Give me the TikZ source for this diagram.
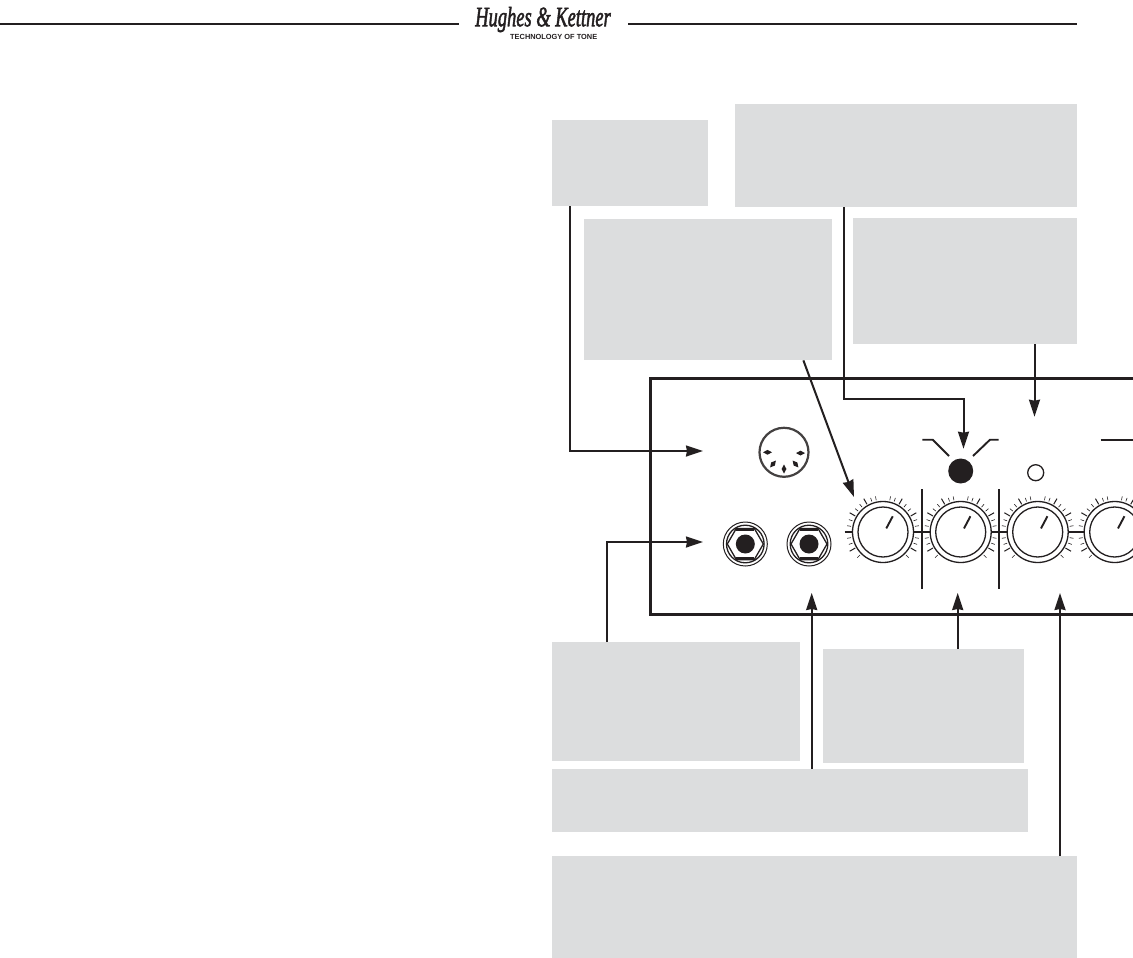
\documentclass[tikz,border=0pt]{standalone}
\usepackage{fontspec}
\setmainfont{Liberation Serif}
\newfontfamily\logosans{Liberation Sans}
\newfontfamily\logoscript[FakeBold=2.2]{Liberation Serif Italic}
\usepackage{xcolor}
\usetikzlibrary{arrows.meta,positioning}
\definecolor{hkgrey}{HTML}{DCDDDE}
\definecolor{hkink}{HTML}{231F20}
\tikzset{
  greybox/.style={fill=hkgrey,draw=none,anchor=north west,inner sep=0pt},
  feed/.style={line width=2pt,draw=hkink,-{Stealth[length=17pt,width=11pt,inset=1pt]}},
  panel/.style={line width=3pt,draw=hkink},
  thinline/.style={line width=1.3pt,draw=hkink},
  markline/.style={line width=1.9pt,draw=hkink}
}
\begin{document}
\begin{tikzpicture}[x=1pt,y=-1pt]
  \useasboundingbox (0,0) rectangle (1133,958);
  \clip (0,0) rectangle (1133,958);
  \fill[white] (0,0) rectangle (1133,958);
  % header
  \coordinate (ruleleft) at (0,23.7);
  \coordinate (ruleleftend) at (459,23.7);
  \coordinate (ruleright) at (628,23.7);
  \coordinate (rulerightend) at (1077,23.7);
  \draw[line width=2pt,draw=hkink] (ruleleft) -- (ruleleftend);
  \draw[line width=2pt,draw=hkink] (ruleright) -- (rulerightend);
  \node[anchor=center,text=hkink,inner sep=0pt] (logoname) at (543,19.5)
    {\scalebox{0.66}[1]{\fontsize{28}{28}\selectfont\logoscript Hughes \& Kettner}};
  \node[anchor=west,text=hkink,inner sep=0pt] (logotag) at (510,36.5)
    {\logosans\bfseries\fontsize{7.4}{8}\selectfont TECHNOLOGY OF TONE};
  % panel
  \draw[panel] (1135,378.5) -- (650.5,378.5) -- (650.5,614) -- (1135,614);
  % grey text fields
  \node[greybox,minimum width=156pt,minimum height=86pt] (boxmidi) at (552,120) {};
  \node[greybox,minimum width=342pt,minimum height=103pt] (boxlamp) at (735,104) {};
  \node[greybox,minimum width=248pt,minimum height=141pt] (boxgain) at (584,219) {};
  \node[greybox,minimum width=224pt,minimum height=126pt] (boxled) at (853,218) {};
  \node[greybox,minimum width=248pt,minimum height=119pt] (boxjack) at (552,642) {};
  \node[greybox,minimum width=201pt,minimum height=114pt] (boxvol) at (823,649) {};
  \node[greybox,minimum width=476pt,minimum height=63pt] (boxsend) at (552,769) {};
  \node[greybox,minimum width=525pt,minimum height=102pt] (boxeq) at (552,856) {};
  % midi socket
  \node[circle,draw=hkink!85!white,line width=2.2pt,minimum size=49pt,inner sep=0pt] (midi) at (784,452.3) {};
  \foreach \px/\py/\pa in {-16.5/0/0,16.5/0.8/0,-11/11.7/50,11.5/11.7/-50,0/16.7/90}
    \fill[hkink,shift={(784+\px,452.3+\py)},rotate=\pa] (-4.5,0) -- (0,-2.4) -- (4.5,0) -- (0,2.4) -- cycle;
  % jacks
  \foreach \jx/\jname in {745.3/jackone,809/jacktwo} {
    \node[circle,draw=hkink,line width=1pt,minimum size=44pt,inner sep=0pt] (\jname) at (\jx,544) {};
    \draw[thinline] (\jx,544) circle (18.8);
    \draw[thinline,fill=white] (\jx-18,544) -- (\jx-9,528.4) -- (\jx+9,528.4) -- (\jx+18,544) -- (\jx+9,559.6) -- (\jx-9,559.6) -- cycle;
    \draw[line width=2.6pt,draw=hkink] (\jx-9,529.4) -- (\jx+9,529.4);
    \draw[line width=2.6pt,draw=hkink] (\jx-9,558.6) -- (\jx+9,558.6);
    \fill[hkink] (\jx,544) circle (9.5);
  }
  % knobs
  \foreach \kx/\kname in {883/knobgain,960.7/knobvol,1037.7/knobbass,1114.7/knobmid} {
    \foreach \a in {210,150,120,60,30,-30}
      \draw[line width=1pt,draw=hkink] (\kx,532)++(-\a:32) -- ++(-\a:6.5);
    \foreach \a in {225,200,190,170,160,140,130,110,102,78,70,50,40,20,10,-10,-20,-45}
      \draw[line width=0.6pt,draw=hkink] (\kx,532)++(-\a:32.5) -- ++(-\a:3.8);
    \draw[thinline] (\kx-38.5,532) -- (\kx-30.5,532);
    \draw[thinline] (\kx+30.5,532) -- (\kx+38.5,532);
    \node[circle,draw=hkink,line width=1.3pt,minimum size=61pt,inner sep=0pt] (\kname) at (\kx,532) {};
    \draw[thinline] (\kx,532) circle (25);
    \draw[markline] (\kx+3.3,528.4) -- (\kx+9.7,516.3);
  }
  % dividers
  \draw[markline] (922,489.3) -- (922,588.7);
  \draw[markline] (999,489.3) -- (999,588.7);
  % leds
  \node[circle,fill=hkink,minimum size=25pt,inner sep=0pt] (ledbig) at (960.7,471) {};
  \node[circle,draw=hkink,line width=1.3pt,minimum size=16pt,inner sep=0pt] (ledsmall) at (1035.7,472.7) {};
  \draw[markline] (922.3,439.7) -- (932.7,439.7) -- (949,456);
  \draw[markline] (998.7,439.7) -- (990,439.7) -- (973,456);
  \draw[markline] (1100.7,439.7) -- (1135,439.7);
  % arrows
  \coordinate (tipmidi) at (703,451);
  \coordinate (tipjack) at (703,542);
  \coordinate (tipgain) at (854,497);
  \coordinate (tiplamp) at (963.5,448.7);
  \coordinate (tipled) at (1034.5,416.7);
  \coordinate (tipvol) at (957.7,593);
  \coordinate (tipsend) at (811.7,593);
  \coordinate (tipeq) at (1060,593);
  \draw[feed] (boxmidi.south west) ++(18,0) |- (tipmidi);
  \draw[feed] (boxjack.north west) ++(55,0) |- (tipjack);
  \draw[feed] (boxgain.south east) ++(-29,0) -- (tipgain);
  \draw[feed] (boxlamp.south west) ++(109,0) -- (844,399) -| (tiplamp);
  \draw[feed] (boxled.south west) ++(181.5,0) -- (tipled);
  \draw[feed] (boxvol.north west) ++(134.7,0) -- (tipvol);
  \draw[feed] (boxsend.north west) ++(259.7,0) -- (tipsend);
  \draw[feed] (boxeq.north west) ++(508,0) -- (tipeq);
\end{tikzpicture}
\end{document}
